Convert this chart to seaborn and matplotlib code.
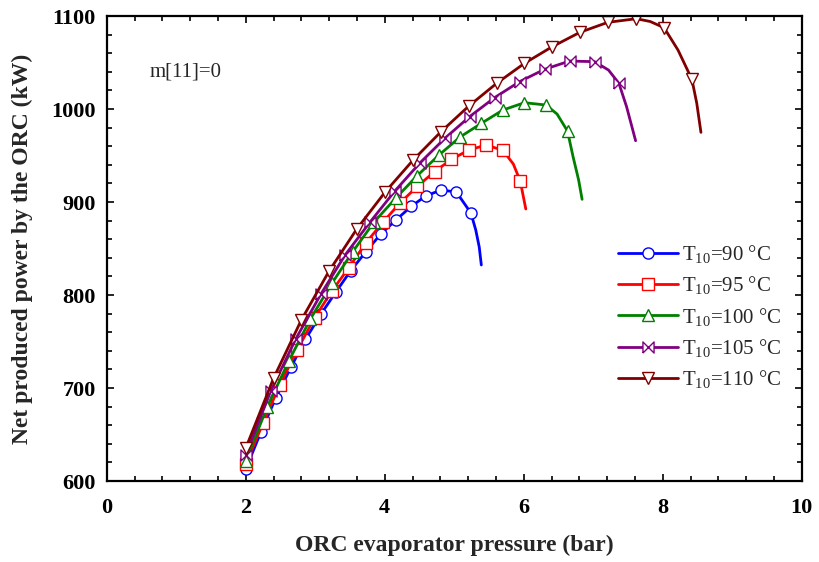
import matplotlib
matplotlib.use("Agg")
import matplotlib.pyplot as plt
from matplotlib.lines import Line2D
from matplotlib.ticker import MultipleLocator
import seaborn as sns

# ---------------------------------
# Data
# (marked = indices of points drawn with a marker)
# ---------------------------------

p_90 = [2.00, 2.22, 2.43, 2.65, 2.86, 3.08, 3.30, 3.51, 3.73, 3.94, 4.16, 4.38,
        4.59, 4.81, 5.03, 5.24, 5.31, 5.36, 5.39]
w_90 = [612.6, 653.0, 688.9, 722.3, 752.4, 779.2, 803.5, 826.1, 846.6, 865.3,
        880.6, 895.2, 906.5, 912.9, 910.8, 888.2, 869.9, 851.6, 832.3]
marked_90 = list(range(0, 16))

p_95 = [2.00, 2.25, 2.49, 2.74, 2.99, 3.24, 3.48, 3.73, 3.98, 4.22, 4.47, 4.72,
        4.96, 5.21, 5.46, 5.70, 5.85, 5.95, 5.99, 6.03]
w_95 = [618.3, 662.4, 703.2, 740.9, 775.3, 804.3, 829.0, 856.2, 878.8, 898.9,
        916.9, 932.8, 945.9, 955.9, 961.3, 955.6, 940.9, 922.6, 907.5, 892.5]
marked_95 = list(range(0, 16)) + [17]

p_100 = [2.00, 2.31, 2.62, 2.93, 3.24, 3.54, 3.85, 4.16, 4.47, 4.78, 5.09, 5.39,
         5.70, 6.01, 6.32, 6.48, 6.63, 6.71, 6.79, 6.84]
w_100 = [621.5, 679.9, 729.0, 774.2, 812.6, 846.6, 878.8, 904.3, 928.5, 950.5,
         970.2, 984.6, 998.9, 1006.8, 1004.3, 994.6, 976.3, 948.7, 923.7, 902.9]
marked_100 = list(range(0, 15)) + [16]

p_105 = [2.00, 2.36, 2.72, 3.08, 3.43, 3.79, 4.15, 4.51, 4.87, 5.22, 5.58, 5.94,
         6.30, 6.66, 7.02, 7.22, 7.37, 7.48, 7.55, 7.61]
w_105 = [628.0, 696.8, 752.7, 800.8, 843.0, 878.5, 912.2, 942.3, 968.8, 991.7,
         1012.2, 1029.4, 1042.7, 1051.6, 1050.9, 1041.9, 1027.6, 1002.5, 982.8, 965.9]
marked_105 = list(range(0, 15)) + [16]

p_110 = [2.00, 2.40, 2.80, 3.20, 3.60, 4.01, 4.41, 4.81, 5.21, 5.61, 6.01, 6.41,
         6.81, 7.21, 7.62, 7.82, 8.02, 8.22, 8.42, 8.49, 8.55]
w_110 = [635.2, 710.4, 773.1, 825.8, 871.2, 911.1, 945.2, 975.6, 1003.2, 1027.6,
         1049.1, 1067.0, 1082.5, 1093.2, 1097.1, 1094.1, 1087.4, 1063.4, 1031.9,
         1006.1, 974.9]
marked_110 = list(range(0, 15)) + [16, 18]

labels = ["T$_{10}$=90 °C", "T$_{10}$=95 °C", "T$_{10}$=100 °C",
          "T$_{10}$=105 °C", "T$_{10}$=110 °C"]

# ---------------------------------
# Styles
# ---------------------------------

bowtie = [(-1, -1), (1, 1), (1, -1), (-1, 1), (-1, -1)]

series = [
    (p_90, w_90, marked_90, "#0000FF", "o", 8),
    (p_95, w_95, marked_95, "#FF0000", "s", 8),
    (p_100, w_100, marked_100, "#008000", "^", 8),
    (p_105, w_105, marked_105, "#800080", bowtie, 8),
    (p_110, w_110, marked_110, "#800000", "v", 8),
]

sns.set_style("ticks")
plt.rcParams["font.family"] = ["Liberation Serif", "DejaVu Serif"]
plt.rcParams["mathtext.fontset"] = "custom"
plt.rcParams["mathtext.rm"] = "Liberation Serif"
plt.rcParams["mathtext.it"] = "Liberation Serif:italic"
plt.rcParams["mathtext.bf"] = "Liberation Serif:bold"

fig, ax = plt.subplots(figsize=(8.19, 5.62), dpi=100)
fig.subplots_adjust(left=0.1303, right=0.9789, bottom=0.1441, top=0.9715)

handles = []
for (p, w, marked, color, marker, ms), label in zip(series, labels):
    sns.lineplot(
        x=p, y=w, ax=ax, sort=False, estimator=None,
        color=color, linewidth=2,
        marker=marker, markevery=marked, markersize=ms,
        markerfacecolor="white", markeredgecolor=color, markeredgewidth=1,
    )
    handles.append(Line2D([], [], color=color, linewidth=2, marker=marker,
                          markersize=ms, markerfacecolor="white",
                          markeredgecolor=color, markeredgewidth=1,
                          label=label))

ax.set_xlim(0, 10)
ax.set_ylim(600, 1100)
ax.xaxis.set_major_locator(MultipleLocator(2))
ax.xaxis.set_minor_locator(MultipleLocator(0.4))
ax.yaxis.set_major_locator(MultipleLocator(100))
ax.yaxis.set_minor_locator(MultipleLocator(20))

ax.tick_params(which="both", direction="in", top=True, right=True,
               width=1.2, colors="black")
ax.tick_params(which="major", length=5, labelsize=16)
ax.tick_params(axis="x", which="major", pad=12)
ax.tick_params(axis="y", which="major", pad=8)
ax.tick_params(which="minor", length=3.5)
for lab in ax.get_xticklabels() + ax.get_yticklabels():
    lab.set_fontweight("bold")

for spine in ax.spines.values():
    spine.set_linewidth(1.6)
    spine.set_color("black")

ax.set_xlabel("ORC evaporator pressure (bar)", fontsize=17,
              fontweight="bold", labelpad=12)
ax.set_ylabel("Net produced power by the ORC (kW)", fontsize=17,
              fontweight="bold", labelpad=13)

ax.text(0.62, 1040, "m[11]=0", fontsize=15, ha="left", va="center")

ax.legend(
    handles=handles, loc="upper left",
    bbox_to_anchor=(618 / 819, 1 - 243 / 562),
    bbox_transform=fig.transFigure,
    frameon=False, fontsize=15, handlelength=2.9, handletextpad=0.15,
    labelspacing=0.45, borderpad=0, borderaxespad=0, numpoints=1,
)

plt.savefig("out.png", dpi=100)
